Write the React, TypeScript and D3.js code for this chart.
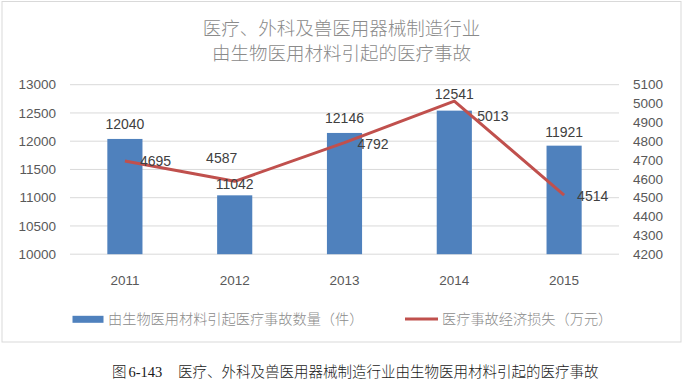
import React from "react";
import * as d3 from "d3";

const years = ["2011", "2012", "2013", "2014", "2015"];
const accidents = [12040, 11042, 12146, 12541, 11921];
const losses = [4695, 4587, 4792, 5013, 4514];
const leftTicks = [10000, 10500, 11000, 11500, 12000, 12500, 13000];
const rightTicks = [4200, 4300, 4400, 4500, 4600, 4700, 4800, 4900, 5000, 5100];
const titleLines = ["医疗、外科及兽医用器械制造行业", "由生物医用材料引起的医疗事故"];
const legendBar = "由生物医用材料引起医疗事故数量（件）";
const legendLine = "医疗事故经济损失（万元）";
const captionNum = "6-143";
const captionText = "医疗、外科及兽医用器械制造行业由生物医用材料引起的医疗事故";

// manual label offsets (like Excel's hand-placed labels)
const barLabelDy = [-15, -11, -15, -17, -14];
const lineLabelOffset: [number, number, string][] = [
  [15, 0, "start"],
  [-13, -23, "middle"],
  [13, 1, "start"],
  [23, 15, "start"],
  [13, 1, "start"],
];

export default function App() {
  const W = 683, H = 381;
  const x0 = 70, x1 = 619, yTop = 84.7, yBot = 254.2;
  const x = d3.scaleBand<string>().domain(years).range([x0, x1]).paddingInner(0.68).paddingOuter(0.34);
  const yL = d3.scaleLinear().domain([10000, 13000]).range([yBot, yTop]);
  const yR = d3.scaleLinear().domain([4200, 5100]).range([yBot, yTop]);
  const cx = (y: string) => (x(y) as number) + x.bandwidth() / 2;
  const line = d3.line<number>().x((_, i) => cx(years[i])).y((d) => yR(d));
  const num = "'Liberation Sans', Arial, sans-serif";
  const cjk = "'Noto Sans CJK SC', sans-serif";

  return (
    <svg width={W} height={H} style={{ position: "absolute", left: 0, top: 0, background: "#fff" }}>
      <rect x={2} y={1.5} width={679} height={340.5} fill="#fff" stroke="#d9d9d9" strokeWidth={1} />
      {titleLines.map((t, i) => (
        <text key={i} x={341.5} y={29 + i * 24.5} dy="0.35em" textAnchor="middle" fontFamily={cjk} fontSize={18.5} fill="#8a8a8a" fontWeight={300}>
          {t}
        </text>
      ))}
      {leftTicks.map((t) => (
        <g key={t}>
          <line x1={x0} x2={x1} y1={yL(t)} y2={yL(t)} stroke="#d9d9d9" strokeWidth={1} />
          <text x={56} y={yL(t)} dy="0.35em" textAnchor="end" fontFamily={num} fontSize={13.5} fill="#595959">
            {t}
          </text>
        </g>
      ))}
      {rightTicks.map((t) => (
        <text key={t} x={633} y={yR(t)} dy="0.35em" textAnchor="start" fontFamily={num} fontSize={13.5} fill="#595959">
          {t}
        </text>
      ))}
      {years.map((yr, i) => (
        <g key={yr}>
          <rect x={x(yr)} y={yL(accidents[i])} width={x.bandwidth()} height={yBot - yL(accidents[i])} fill="#4f81bd" />
          <text x={cx(yr)} y={280} dy="0.35em" textAnchor="middle" fontFamily={num} fontSize={13.5} fill="#595959">
            {yr}
          </text>
        </g>
      ))}
      <path d={line(losses) || ""} fill="none" stroke="#c0504d" strokeWidth={3} strokeLinejoin="round" />
      {years.map((yr, i) => (
        <text key={"b" + yr} x={cx(yr)} y={yL(accidents[i]) + barLabelDy[i]} dy="0.35em" textAnchor="middle" fontFamily={num} fontSize={14} fill="#404040">
          {accidents[i]}
        </text>
      ))}
      {years.map((yr, i) => (
        <text
          key={"l" + yr}
          x={cx(yr) + lineLabelOffset[i][0]}
          y={yR(losses[i]) + lineLabelOffset[i][1]}
          dy="0.35em"
          textAnchor={lineLabelOffset[i][2] as any}
          fontFamily={num}
          fontSize={14}
          fill="#404040"
        >
          {losses[i]}
        </text>
      ))}
      <rect x={72.5} y={315.8} width={31} height={7} fill="#4f81bd" />
      <text x={108} y={319.5} dy="0.35em" fontFamily={cjk} fontSize={14.2} fill="#8c8c8c" fontWeight={300}>
        {legendBar}
      </text>
      <line x1={405} x2={438} y1={319} y2={319} stroke="#c0504d" strokeWidth={3} />
      <text x={442} y={319.5} dy="0.35em" fontFamily={cjk} fontSize={14.2} fill="#8c8c8c" fontWeight={300}>
        {legendLine}
      </text>
      <text x={112} y={371.5} dy="0.35em" fontFamily={cjk} fontSize={14.5} fill="#1a1a1a" fontWeight={300}>
        图
        <tspan fontFamily="'Liberation Serif', serif" dx={2}>{captionNum}</tspan>
        <tspan x={178}>{captionText}</tspan>
      </text>
    </svg>
  );
}
